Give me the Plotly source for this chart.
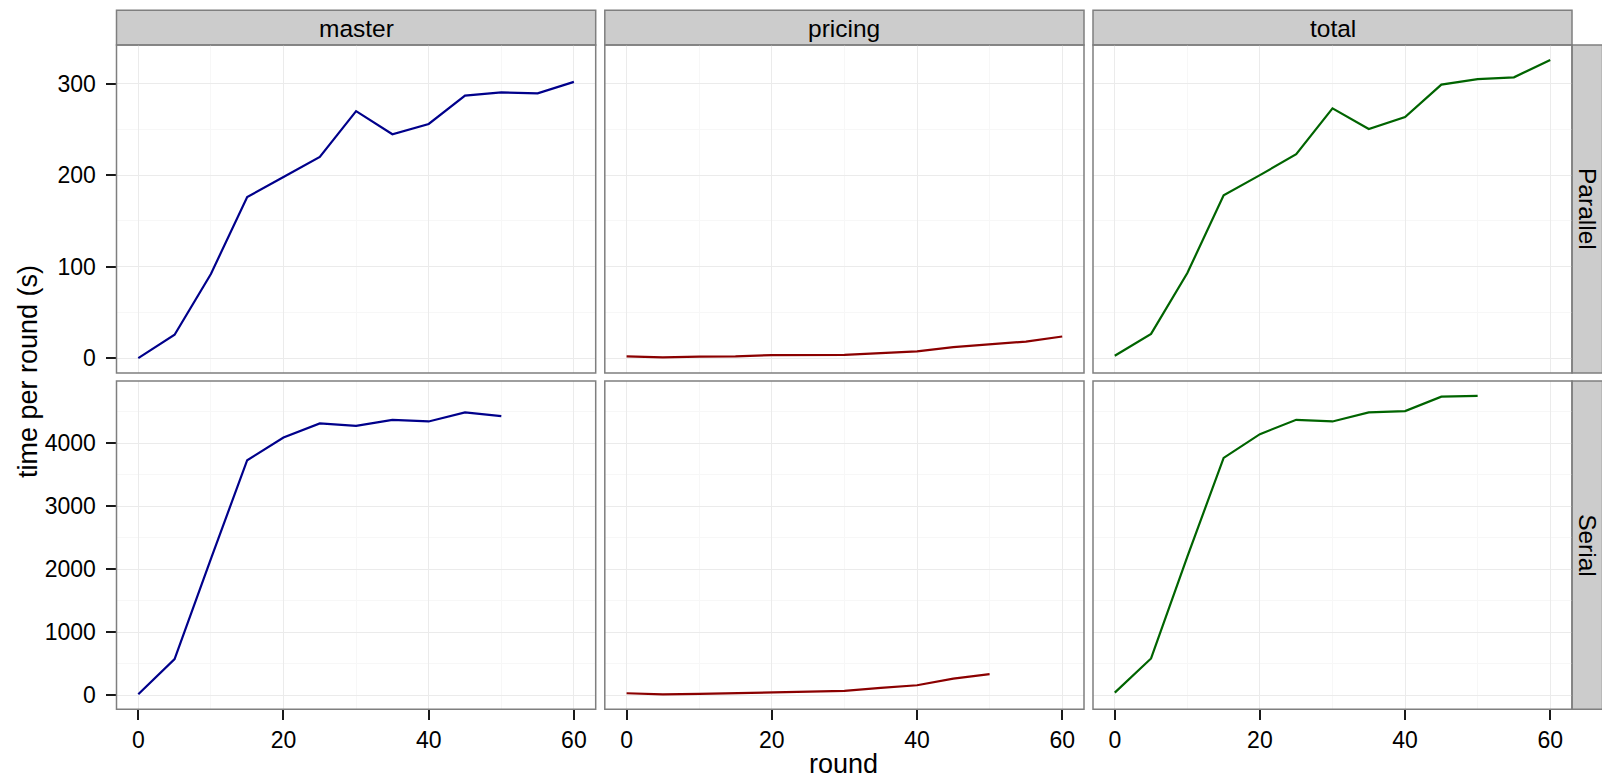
import plotly.graph_objects as go

rounds_par = [0, 5, 10, 15, 20, 25, 30, 35, 40, 45, 50, 55, 60]
rounds_ser = [0, 5, 10, 15, 20, 25, 30, 35, 40, 45, 50]

master_par = [0, 25.5, 92, 176, 198, 220, 270, 244.7, 256, 287, 290.5, 289.5, 302]
pricing_par = [1.8, 0.7, 1.5, 1.8, 3.3, 3.3, 3.6, 5.5, 7.3, 12, 15.3, 18, 23.6]
total_par = [2.5, 26.5, 93, 178, 200, 223, 273, 250.5, 263.6, 299, 305, 307, 326]

master_ser = [16, 573, 2164, 3730, 4090, 4313, 4276, 4371, 4345, 4488, 4430]
pricing_ser = [32, 14, 21, 32, 48, 58, 69, 117, 159, 265, 334]
total_ser = [42, 584, 2200, 3766, 4143, 4371, 4345, 4488, 4509, 4738, 4750]

col_labels = ["master", "pricing", "total"]
row_labels = ["Parallel", "Serial"]
colors = ["#00008B", "#8B0000", "#006400"]
x_ticks = [0, 20, 40, 60]

W, H = 1602, 779
FONT = "Liberation Sans, Arial, Helvetica, sans-serif"

# panel geometry (pixels)
px_cols = [(116.5, 595.7), (604.8, 1084.0), (1093.0, 1572.0)]
px_rows = [(45.0, 373.0), (381.0, 709.3)]  # top -> bottom

def fx(p):
    return p / W

def fy(p):
    return 1 - p / H

def expand(vals, f=0.05):
    lo, hi = min(vals), max(vals)
    r = hi - lo
    return [lo - f * r, hi + f * r]

series = [
    [(rounds_par, master_par), (rounds_par, pricing_par), (rounds_par, total_par)],
    [(rounds_ser, master_ser), (rounds_ser, pricing_ser), (rounds_ser, total_ser)],
]
yranges = [
    expand(master_par + pricing_par + total_par),
    expand(master_ser + pricing_ser + total_ser),
]
ydticks = [(100, 50), (1000, 500)]
xrange_ = expand(rounds_par)

fig = go.Figure()
shapes = []
annotations = []
layout = {}

TICKFONT = dict(family=FONT, size=23, color="#000000")

for r in range(2):
    for c in range(3):
        idx = r * 3 + c + 1
        xa = "x" if idx == 1 else f"x{idx}"
        ya = "y" if idx == 1 else f"y{idx}"
        xs, ys = series[r][c]
        fig.add_trace(go.Scatter(x=xs, y=ys, mode="lines",
                                 line=dict(color=colors[c], width=2.2),
                                 xaxis=xa, yaxis=ya, showlegend=False,
                                 hoverinfo="x+y"))
        x0, x1 = px_cols[c]
        y0, y1 = px_rows[r]
        xkey = "xaxis" if idx == 1 else f"xaxis{idx}"
        ykey = "yaxis" if idx == 1 else f"yaxis{idx}"
        show_x = (r == 1)
        show_y = (c == 0)
        layout[xkey] = dict(
            domain=[fx(x0), fx(x1)], anchor=ya, range=xrange_,
            tickmode="array", tickvals=x_ticks, automargin=False,
            showticklabels=show_x, ticks="outside" if show_x else "",
            ticklen=10, tickwidth=2, tickcolor="#1a1a1a",
            showgrid=True, gridcolor="#EBEBEB", gridwidth=1,
            minor=dict(dtick=10, tick0=0, showgrid=True, gridcolor="#F7F7F7", gridwidth=1, ticks=""),
            zeroline=False, showline=False,
            tickfont=TICKFONT, ticklabelstandoff=0,
        )
        dt, mdt = ydticks[r]
        layout[ykey] = dict(
            domain=[fy(y1), fy(y0)], anchor=xa, range=yranges[r],
            tick0=0, dtick=dt, automargin=False,
            showticklabels=show_y, ticks="outside" if show_y else "",
            ticklen=10, tickwidth=2, tickcolor="#1a1a1a",
            showgrid=True, gridcolor="#EBEBEB", gridwidth=1,
            minor=dict(dtick=mdt, tick0=0, showgrid=True, gridcolor="#F7F7F7", gridwidth=1, ticks=""),
            zeroline=False, showline=False,
            tickfont=TICKFONT, ticklabelstandoff=5,
        )
        # panel border
        shapes.append(dict(type="rect", xref="paper", yref="paper",
                           x0=fx(x0), x1=fx(x1), y0=fy(y1), y1=fy(y0),
                           line=dict(color="#7F7F7F", width=1.5), layer="above"))

# top strips
for c in range(3):
    x0, x1 = px_cols[c]
    shapes.append(dict(type="rect", xref="paper", yref="paper",
                       x0=fx(x0), x1=fx(x1), y0=fy(45.0), y1=fy(10.2),
                       fillcolor="#CCCCCC", line=dict(color="#7F7F7F", width=1.5), layer="below"))
    annotations.append(dict(text=col_labels[c], xref="paper", yref="paper",
                            x=fx((x0 + x1) / 2), y=fy(28), showarrow=False,
                            xanchor="center", yanchor="middle",
                            font=dict(family=FONT, size=24.5, color="#000000")))

# right strips
for r in range(2):
    y0, y1 = px_rows[r]
    shapes.append(dict(type="rect", xref="paper", yref="paper",
                       x0=fx(1572.0), x1=fx(1602.5), y0=fy(y1), y1=fy(y0),
                       fillcolor="#CCCCCC", line=dict(color="#7F7F7F", width=1.5), layer="below"))
    annotations.append(dict(text=row_labels[r], xref="paper", yref="paper",
                            x=fx(1588.0), y=fy((y0 + y1) / 2), showarrow=False,
                            textangle=90, xanchor="center", yanchor="middle",
                            font=dict(family=FONT, size=24.5, color="#000000")))

# axis titles
annotations.append(dict(text="round", xref="paper", yref="paper",
                        x=fx(844), y=fy(764), showarrow=False,
                        xanchor="center", yanchor="middle",
                        font=dict(family=FONT, size=27, color="#000000")))
annotations.append(dict(text="time per round (s)", xref="paper", yref="paper",
                        x=fx(28), y=fy(372), showarrow=False, textangle=-90,
                        xanchor="center", yanchor="middle",
                        font=dict(family=FONT, size=27, color="#000000")))

fig.update_layout(
    width=W, height=H,
    margin=dict(l=0, r=0, t=0, b=0, pad=0, autoexpand=False),
    paper_bgcolor="white", plot_bgcolor="white",
    shapes=shapes, annotations=annotations,
    **layout,
)

fig.write_html(
    "out.html",
    config={"displayModeBar": False},
    post_script="document.body.style.margin='0';document.body.style.padding='0';"
                "document.documentElement.style.overflow='hidden';",
)
